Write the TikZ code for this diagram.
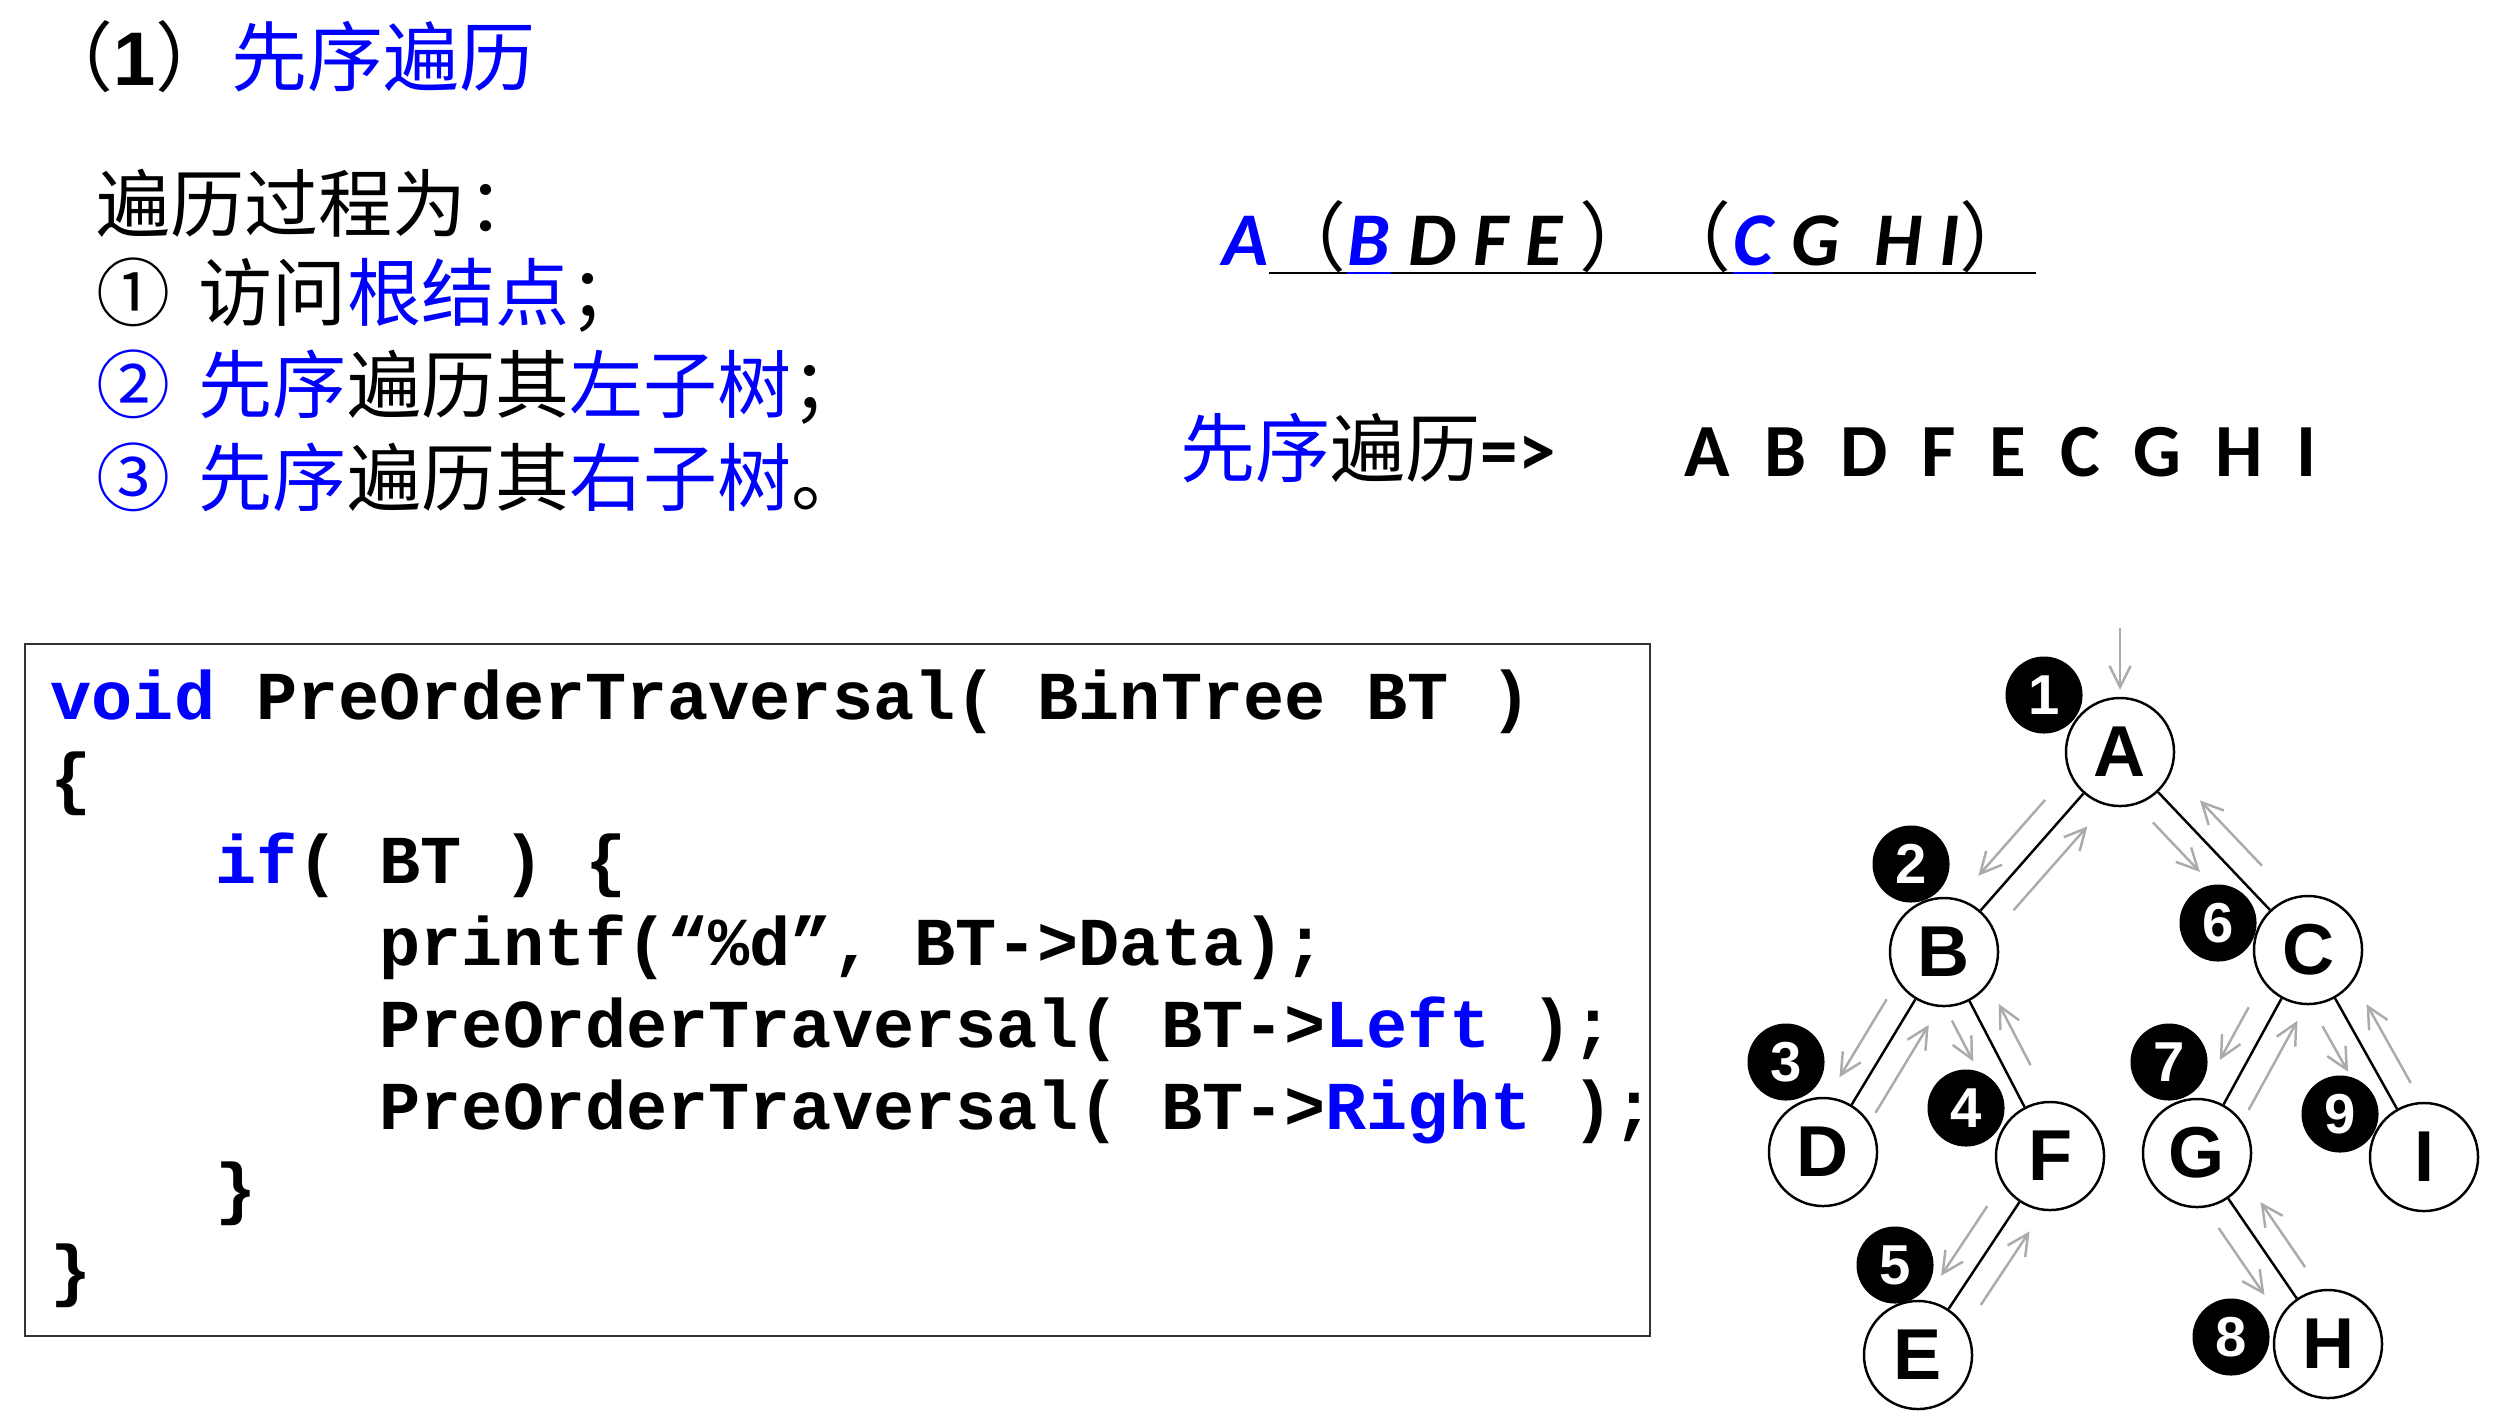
\documentclass[tikz,border=0pt]{standalone}
\usepackage{fontspec}
\setmainfont{Liberation Sans}
\setmonofont{Liberation Mono}
\newfontfamily\cjk{Noto Sans CJK SC}
\newfontfamily\calib{Carlito}
\usetikzlibrary{arrows.meta, calc, positioning}

% gray traversal arrow beside the branch #1--#2, from fraction #3 to #4
\newcommand{\travarrow}[4]{%
  \draw[trav] ($(#1)!#3!(#2)!7pt!-90:(#2)$) -- ($(#1)!#4!(#2)!7pt!90:(#1)$);}

\begin{document}
\begin{tikzpicture}[x=0.01cm, y=-0.01cm,
    title/.style={inner sep=0pt, anchor=west, font=\fontsize{21.6pt}{26pt}\selectfont},
    line/.style={inner sep=0pt, anchor=west, font=\cjk\fontsize{21.06pt}{25pt}\selectfont},
    seqtxt/.style={inner sep=0pt, anchor=base west, font=\fontsize{21.6pt}{26pt}\selectfont},
    restxt/.style={inner sep=0pt, anchor=base west, font=\fontsize{21.34pt}{26pt}\selectfont},
    uline/.style={line width=0.75pt},
    codebox/.style={draw=black!80, line width=0.7pt},
    codeline/.style={inner sep=0pt, anchor=base west, font=\ttfamily\bfseries\fontsize{19.49pt}{23pt}\selectfont},
    tnode/.style={circle, draw, line width=0.7pt, fill=white, inner sep=0pt, minimum size=1.08cm, font=\bfseries\fontsize{20.5pt}{22pt}\selectfont},
    badge/.style={circle, fill=black, text=white, inner sep=0pt, minimum size=0.77cm, font=\bfseries\fontsize{16pt}{18pt}\selectfont},
    branch/.style={line width=0.7pt},
    trav/.style={draw=black!33, line width=0.7pt, -{Straight Barb[length=6pt,width=6pt]}}
]
\useasboundingbox (0,0) rectangle (2512,1426);

% Heading and steps
\node[title] (head) at (37,57) {{\cjk（}{\bfseries 1}{\cjk）}{\cjk\color{blue}先序遍历}};
\node[line] (step0) at (96,203) {遍历过程为：};
\node[line] (step1) at (96,295) {①\hspace{0.38em}访问{\color{blue}根结点}；};
\node[line] (step2) at (96,387) {{\color{blue}②\hspace{0.38em}先序}遍历其{\color{blue}左子树}；};
\node[line] (step3) at (96,477) {{\color{blue}③\hspace{0.38em}先序}遍历其{\color{blue}右子树}。};

% Split of the sequence
\node[seqtxt, text=blue] (sA) at (1222,265) {\calib\bfseries\itshape A};
\node[seqtxt] (s1) at (sA.base east) {\cjk（};
\node[seqtxt, text=blue] (sB) at (s1.base east) {\calib\bfseries\itshape B};
\node[seqtxt] (s2) at (sB.base east) {{\calib\bfseries\itshape ~D~F~E~}{\cjk）（}};
\node[seqtxt, text=blue] (sC) at (s2.base east) {\calib\bfseries\itshape C};
\node[seqtxt] (s3) at (sC.base east) {{\calib\bfseries\itshape ~G~~H~I}{\cjk）}};
\draw[uline] ([yshift=-2.3pt]s1.base west) -- ([yshift=-2.3pt]s3.base east);
\draw[uline, blue] ([yshift=-2.3pt]sB.base west) -- ([yshift=-2.3pt]sB.base east);
\draw[uline, blue] ([yshift=-2.3pt]sC.base west) -- ([yshift=-2.3pt]sC.base east);

% Result
\node[restxt] (preLabel) at (1180,476) {{\cjk{\color{blue}先序}遍历}{\calib\bfseries =>}};
\node[restxt] (preSeq) at (1684,476) {\calib\bfseries A~~B~~D~~F~~E~~C~~G~~H~~I};

% Code
\draw[codebox] (25,644) rectangle (1650,1336);
\node[codeline] (c1) at (50,719) {{\color{blue}void} PreOrderTraversal( BinTree BT )};
\node[codeline] (c2) at (50,801) {\{};
\node[codeline] (c3) at (50,883) {~~~~{\color{blue}if}( BT ) \{};
\node[codeline] (c4) at (50,965) {~~~~~~~~printf(“\%d”, BT->Data);};
\node[codeline] (c5) at (50,1047) {~~~~~~~~PreOrderTraversal( BT->{\color{blue}Left} );};
\node[codeline] (c6) at (50,1129) {~~~~~~~~PreOrderTraversal( BT->{\color{blue}Right} );};
\node[codeline] (c7) at (50,1211) {~~~~\}};
\node[codeline] (c8) at (50,1293) {\}};

% Visit order
\node[badge] (n1) at (2044,695) {1};
\node[badge] (n2) at (1911,864) {2};
\node[badge] (n3) at (1786,1062) {3};
\node[badge] (n4) at (1966,1108) {4};
\node[badge] (n5) at (1895,1265) {5};
\node[badge] (n6) at (2218,923) {6};
\node[badge] (n7) at (2169,1062) {7};
\node[badge] (n8) at (2231,1337) {8};
\node[badge] (n9) at (2340,1114) {9};

% Tree
\node[tnode] (A) at (2120,752) {A};
\node[tnode] (B) at (1944,952) {B};
\node[tnode] (C) at (2308,950) {C};
\node[tnode] (D) at (1823,1152) {D};
\node[tnode] (F) at (2050,1156) {F};
\node[tnode] (E) at (1918,1355) {E};
\node[tnode] (G) at (2197,1153) {G};
\node[tnode] (I) at (2424,1157) {I};
\node[tnode] (H) at (2328,1344) {H};

\draw[branch] (A) -- (B);
\draw[branch] (A) -- (C);
\draw[branch] (B) -- (D);
\draw[branch] (B) -- (F);
\draw[branch] (F) -- (E);
\draw[branch] (C) -- (G);
\draw[branch] (C) -- (I);
\draw[branch] (G) -- (H);

% Traversal path
\coordinate (entry) at (2120,628);
\draw[trav, shorten >=2pt] (entry) -- (A);
\travarrow{A}{B}{0.32}{0.70}
\travarrow{B}{A}{0.29}{0.71}
\travarrow{A}{C}{0.27}{0.52}
\travarrow{C}{A}{0.34}{0.67}
\travarrow{B}{D}{0.30}{0.69}
\travarrow{D}{B}{0.26}{0.70}
\travarrow{B}{F}{0.28}{0.48}
\travarrow{F}{B}{0.39}{0.69}
\travarrow{F}{E}{0.32}{0.67}
\travarrow{E}{F}{0.32}{0.69}
\travarrow{C}{G}{0.34}{0.60}
\travarrow{G}{C}{0.27}{0.71}
\travarrow{C}{I}{0.31}{0.53}
\travarrow{I}{C}{0.30}{0.68}
\travarrow{G}{H}{0.32}{0.67}
\travarrow{H}{G}{0.33}{0.67}
\end{tikzpicture}
\end{document}
